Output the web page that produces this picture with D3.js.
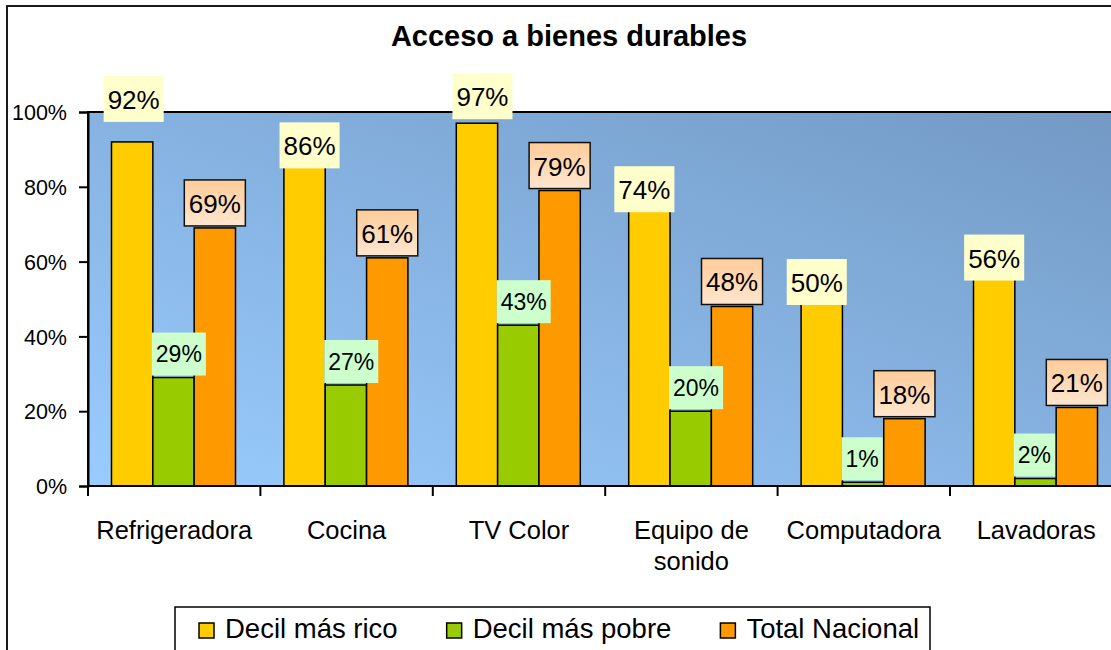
<!DOCTYPE html>
<html>
<head>
<meta charset="utf-8">
<script src="https://cdn.jsdelivr.net/npm/d3@7"></script>
<style>
  html, body { margin: 0; padding: 0; background: #fff; }
  svg { display: block; font-family: Arial, "Liberation Sans", sans-serif; }
</style>
</head>
<body>
<svg id="chart" width="1111" height="650"></svg>
<script>
// ---- data ----
const title = "Acceso a bienes durables";
const categories = ["Refrigeradora", "Cocina", "TV Color", "Equipo de sonido", "Computadora", "Lavadoras"];
const seriesNames = ["Decil más rico", "Decil más pobre", "Total Nacional"];
const decilRico = [0.92, 0.86, 0.97, 0.74, 0.50, 0.56];
const decilPobre = [0.29, 0.27, 0.43, 0.20, 0.01, 0.02];
const totalNacional = [0.69, 0.61, 0.79, 0.48, 0.18, 0.21];
const yTicks = [0, 0.2, 0.4, 0.6, 0.8, 1.0];

// label nudges (pixels) for the "Decil más rico" data labels, as placed in the original
const ricoLabelDx = [1.5, 5, 5.5, -5, -5, 0];
const ricoLabelDy = [-24, 0, -8, -1, 2, 0];

// ---- styling ----
const colors = ["#FFCC00", "#99CC00", "#FF9900"];
const labelFill = ["#FFFFCC", "#CCFFCC", "url(#orangeLbl)"];

const svg = d3.select("#chart");
const defs = svg.append("defs");
const bg = defs.append("linearGradient").attr("id", "plotBg")
  .attr("x1", 0).attr("y1", 1).attr("x2", 1).attr("y2", 0);
bg.append("stop").attr("offset", "0%").attr("stop-color", "#99CCFF");
bg.append("stop").attr("offset", "100%").attr("stop-color", "#7399C4");
const og = defs.append("linearGradient").attr("id", "orangeLbl")
  .attr("x1", 0).attr("y1", 0).attr("x2", 0).attr("y2", 1);
og.append("stop").attr("offset", "0%").attr("stop-color", "#FFCC99");
og.append("stop").attr("offset", "100%").attr("stop-color", "#FFE6CF");

// chart area border
svg.append("rect").attr("x", 7).attr("y", 6).attr("width", 1200).attr("height", 700)
  .attr("fill", "#fff").attr("stroke", "#1a1a1a").attr("stroke-width", 2);

// title
svg.append("text").attr("x", 569).attr("y", 46).attr("text-anchor", "middle")
  .attr("font-size", 29).attr("font-weight", "bold").attr("fill", "#000").text(title);

// scales
const plotLeft = 88, plotTop = 112, plotBottom = 486, bandW = 172.4;
const plotRight = plotLeft + bandW * categories.length;
const x0 = d3.scaleBand().domain(categories).range([plotLeft, plotRight]).padding(0);
const x1 = d3.scaleBand().domain(seriesNames).range([23.5, 147.5]).padding(0);
const y = d3.scaleLinear().domain([0, 1]).range([plotBottom, plotTop]);

// plot area
svg.append("rect").attr("x", plotLeft).attr("y", plotTop)
  .attr("width", plotRight - plotLeft).attr("height", plotBottom - plotTop)
  .attr("fill", "url(#plotBg)").attr("stroke", "#000").attr("stroke-width", 2);

// y axis
const yAxis = d3.axisLeft(y).tickValues(yTicks).tickFormat(d3.format(".0%"))
  .tickSize(9).tickPadding(12);
const gy = svg.append("g").attr("transform", `translate(${plotLeft},0)`).call(yAxis);
gy.select(".domain").attr("stroke", "#000").attr("stroke-width", 2);
gy.selectAll(".tick line").attr("stroke", "#000").attr("stroke-width", 2);
gy.selectAll(".tick text").attr("font-size", 21.5).attr("fill", "#000")
  .attr("font-family", "Arial, 'Liberation Sans', sans-serif").attr("dy", "0.36em");

// bars
const seriesData = [decilRico, decilPobre, totalNacional];
const groups = svg.append("g").selectAll("g").data(categories).join("g")
  .attr("transform", d => `translate(${x0(d)},0)`);
groups.selectAll("rect").data((d, i) => seriesNames.map((s, k) => ({ s, k, v: seriesData[k][i], i })))
  .join("rect")
  .attr("x", d => x1(d.s)).attr("width", x1.bandwidth())
  .attr("y", d => y(d.v)).attr("height", d => y(0) - y(d.v))
  .attr("fill", d => colors[d.k]).attr("stroke", "#000").attr("stroke-width", 1.5);

// x axis line + tick marks at category boundaries
svg.append("line").attr("x1", plotLeft).attr("x2", plotRight).attr("y1", plotBottom).attr("y2", plotBottom)
  .attr("stroke", "#000").attr("stroke-width", 2);
svg.append("g").selectAll("line").data(categories).join("line")
  .attr("x1", d => x0(d)).attr("x2", d => x0(d))
  .attr("y1", plotBottom).attr("y2", plotBottom + 10)
  .attr("stroke", "#000").attr("stroke-width", 2);

// category labels (wrapped)
const catG = svg.append("g");
categories.forEach(c => {
  const t = catG.append("text").attr("x", x0(c) + bandW / 2).attr("y", 539)
    .attr("text-anchor", "middle").attr("font-size", 25.5).attr("fill", "#000");
  const words = c.split(" ");
  let line = [];
  let tspan = t.append("tspan").attr("x", x0(c) + bandW / 2).attr("dy", 0);
  words.forEach(w => {
    line.push(w);
    tspan.text(line.join(" "));
    if (tspan.node().getComputedTextLength() > 162 && line.length > 1) {
      line.pop();
      tspan.text(line.join(" "));
      line = [w];
      tspan = t.append("tspan").attr("x", x0(c) + bandW / 2).attr("dy", 31).text(w);
    }
  });
});

// data labels
const fmt = d3.format(".0%");
const lblG = svg.append("g");
categories.forEach((c, i) => {
  seriesNames.forEach((s, k) => {
    const v = seriesData[k][i];
    const barX = x0(c) + x1(s), barW = x1.bandwidth(), barTop = y(v);
    const fs = k === 1 ? 23 : 26;
    const g = lblG.append("g");
    const txt = g.append("text").attr("font-size", fs).attr("fill", "#000")
      .attr("text-anchor", "middle").text(fmt(v));
    const tw = txt.node().getComputedTextLength();
    let bw, bh, bx, by;
    if (k === 0) {
      bw = tw + 8; bh = 46;
      bx = barX + barW / 2 - bw / 2 + ricoLabelDx[i];
      by = barTop + 4 + ricoLabelDy[i] - bh;
    } else if (k === 1) {
      bw = tw + 8; bh = 43;
      bx = barX - 1;
      by = barTop - 2 - bh;
    } else {
      bw = tw + 9; bh = 46;
      bx = barX + barW / 2 - bw / 2;
      by = barTop - 2 - bh;
    }
    g.insert("rect", "text").attr("x", bx).attr("y", by).attr("width", bw).attr("height", bh)
      .attr("fill", labelFill[k])
      .attr("stroke", k === 2 ? "#111" : "none").attr("stroke-width", 1.5);
    txt.attr("x", bx + bw / 2).attr("y", by + bh / 2 + (k === 1 ? 8 : 10));
  });
});

// legend
const legG = svg.append("g");
legG.append("rect").attr("x", 175).attr("y", 607).attr("width", 755).attr("height", 60)
  .attr("fill", "#fff").attr("stroke", "#000").attr("stroke-width", 1.5);
let lx = 199;
seriesNames.forEach((s, k) => {
  legG.append("rect").attr("x", lx).attr("y", 623).attr("width", 15).attr("height", 15)
    .attr("fill", colors[k]).attr("stroke", "#000").attr("stroke-width", 1.5);
  const t = legG.append("text").attr("x", lx + 26).attr("y", 638).attr("font-size", 27.5)
    .attr("fill", "#000").text(s);
  lx = lx + 26 + t.node().getComputedTextLength() + 49;
});
</script>
</body>
</html>
